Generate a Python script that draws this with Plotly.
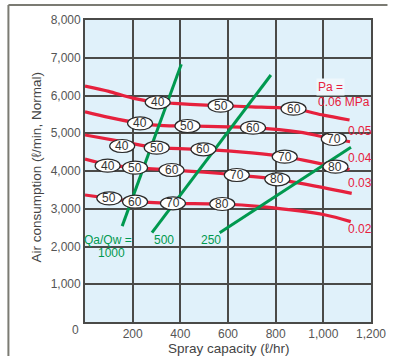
import plotly.graph_objects as go

# ---- data ----
pa_levels = ["0.06", "0.05", "0.04", "0.03", "0.02"]
curve_x = {
    "0.06": [0, 100, 200, 305, 373, 441, 569, 700, 875, 1000, 1110],
    "0.05": [0, 100, 231, 330, 430, 600, 705, 900, 1044, 1112],
    "0.04": [0, 156, 301, 497, 700, 838, 1051, 1110],
    "0.03": [0, 95, 210, 363, 500, 637, 807, 1000, 1119],
    "0.02": [0, 102, 210, 369, 576, 739, 1009, 1115],
}
curve_y = {
    "0.06": [6250, 6110, 5930, 5820, 5790, 5767, 5730, 5700, 5650, 5480, 5350],
    "0.05": [5570, 5420, 5263, 5200, 5192, 5170, 5148, 5030, 4848, 4776],
    "0.04": [4954, 4780, 4617, 4575, 4480, 4379, 4114, 4040],
    "0.03": [4318, 4170, 4088, 4026, 3970, 3894, 3780, 3560, 3409],
    "0.02": [3364, 3276, 3187, 3144, 3126, 3054, 2834, 2660],
}
# nozzle-pressure (kPa) markers along each curve
marker_x = {
    "0.06": [305, 569, 875],
    "0.05": [231, 430, 705, 1044],
    "0.04": [156, 301, 497, 838, 1051],
    "0.03": [95, 210, 363, 637, 807],
    "0.02": [102, 210, 369, 576],
}
marker_y = {
    "0.06": [5820, 5730, 5650],
    "0.05": [5263, 5192, 5148, 4848],
    "0.04": [4662, 4617, 4575, 4379, 4114],
    "0.03": [4141, 4088, 4026, 3894, 3780],
    "0.02": [3276, 3187, 3144, 3126],
}
marker_text = {
    "0.06": ["40", "50", "60"],
    "0.05": ["40", "50", "60", "70"],
    "0.04": ["40", "50", "60", "70", "80"],
    "0.03": ["40", "50", "60", "70", "80"],
    "0.02": ["50", "60", "70", "80"],
}
ratio_names = ["1000", "500", "250"]
ratio_x = {"1000": [156, 404], "500": [281, 780], "250": [565, 1116]}
ratio_y = {"1000": [2540, 6826], "500": [2366, 6543], "250": [2366, 4627]}

x_ticks = [200, 400, 600, 800, 1000, 1200]
x_tick_text = ["200", "400", "600", "800", "1,000", "1,200"]
y_ticks = [1000, 2000, 3000, 4000, 5000, 6000, 7000, 8000]
y_tick_text = ["1,000", "2,000", "3,000", "4,000", "5,000", "6,000", "7,000", "8,000"]

RED = "#e6213d"
GREEN = "#00994f"
FONT = "Liberation Sans, Arial, sans-serif"

fig = go.Figure()

for p in pa_levels:
    fig.add_trace(go.Scatter(x=curve_x[p], y=curve_y[p], mode="lines",
                             line=dict(color=RED, width=3.2, shape="spline", smoothing=0.7),
                             hoverinfo="skip", showlegend=False))
for r in ratio_names:
    fig.add_trace(go.Scatter(x=ratio_x[r], y=ratio_y[r], mode="lines",
                             line=dict(color=GREEN, width=3),
                             hoverinfo="skip", showlegend=False))

shapes = []
annotations = []
for p in pa_levels:
    for mx, my, mt in zip(marker_x[p], marker_y[p], marker_text[p]):
        shapes.append(dict(type="circle", xref="x", yref="y",
                           xsizemode="pixel", ysizemode="pixel",
                           xanchor=mx, yanchor=my, x0=-12.5, x1=12.5, y0=-6.5, y1=6.5,
                           fillcolor="white", line=dict(color="#2a2a2a", width=1.2),
                           layer="above"))
        annotations.append(dict(x=mx, y=my, xref="x", yref="y", text=mt, showarrow=False,
                                font=dict(family=FONT, size=12, color="#333333"),
                                xanchor="center", yanchor="middle", yshift=0))

# outer bracket frame (left + top)
shapes.append(dict(type="line", xref="paper", yref="paper",
                   x0=(6 - 85) / 295, x1=(6 - 85) / 295, y0=(322 - 356) / 302, y1=(322 - 5) / 302,
                   line=dict(color="#7b7b73", width=2)))
shapes.append(dict(type="line", xref="paper", yref="paper",
                   x0=(6 - 85) / 295, x1=(397 - 85) / 295, y0=(322 - 5) / 302, y1=(322 - 5) / 302,
                   line=dict(color="#7b7b73", width=2)))

# pressure labels
annotations.append(dict(x=(323 - 85) / 295, y=(322 - 87) / 302, xref="paper", yref="paper",
                        text="Pa =", showarrow=False, xanchor="left", yanchor="middle",
                        font=dict(family=FONT, size=12, color=RED), bgcolor="#eef7fc"))
annotations.append(dict(x=(323 - 85) / 295, y=(322 - 102) / 302, xref="paper", yref="paper",
                        text="0.06 MPa", showarrow=False, xanchor="left", yanchor="middle",
                        font=dict(family=FONT, size=12, color=RED)))
pa_label_y = {"0.05": 131, "0.04": 158, "0.03": 183, "0.02": 229}
for p in ["0.05", "0.04", "0.03", "0.02"]:
    annotations.append(dict(x=(354 - 85) / 295, y=(322 - pa_label_y[p]) / 302, xref="paper", yref="paper",
                            text=p, showarrow=False, xanchor="left", yanchor="middle",
                            font=dict(family=FONT, size=12, color=RED)))

# ratio labels
annotations.append(dict(x=(109 - 85) / 295, y=(322 - 240) / 302, xref="paper", yref="paper",
                        text="Qa/Qw =", showarrow=False, xanchor="center", yanchor="middle",
                        font=dict(family=FONT, size=12, color=GREEN)))
annotations.append(dict(x=(112 - 85) / 295, y=(322 - 253) / 302, xref="paper", yref="paper",
                        text="1000", showarrow=False, xanchor="center", yanchor="middle",
                        font=dict(family=FONT, size=12, color=GREEN)))
annotations.append(dict(x=(167 - 85) / 295, y=(322 - 240) / 302, xref="paper", yref="paper",
                        text="500", showarrow=False, xanchor="center", yanchor="middle",
                        font=dict(family=FONT, size=12, color=GREEN)))
annotations.append(dict(x=(215 - 85) / 295, y=(322 - 240) / 302, xref="paper", yref="paper",
                        text="250", showarrow=False, xanchor="center", yanchor="middle",
                        font=dict(family=FONT, size=12, color=GREEN)))

# origin "0"
annotations.append(dict(x=0, y=0, xref="x", yref="y", text="0", showarrow=False,
                        xanchor="center", yanchor="middle", xshift=-10, yshift=-8,
                        font=dict(family=FONT, size=12, color="#555555")))

# axis titles
annotations.append(dict(x=(233 - 85) / 295, y=(322 - 349) / 302, xref="paper", yref="paper",
                        text="Spray capacity (ℓ/hr)", showarrow=False, xanchor="center", yanchor="middle",
                        font=dict(family=FONT, size=13.5, color="#444444")))
annotations.append(dict(x=(35 - 85) / 295, y=(322 - 168) / 302, xref="paper", yref="paper",
                        text="Air consumption (ℓ/min, Normal)", showarrow=False, textangle=-90,
                        xanchor="center", yanchor="middle",
                        font=dict(family=FONT, size=13.5, color="#444444")))

GRID = "#4a4a48"
fig.update_layout(
    width=398, height=356,
    margin=dict(l=85, r=18, t=20, b=34),
    paper_bgcolor="white", plot_bgcolor="#e0f1fa",
    showlegend=False,
    shapes=shapes, annotations=annotations,
    xaxis=dict(range=[0, 1200], tickvals=x_ticks, ticktext=x_tick_text,
               showgrid=True, gridcolor=GRID, gridwidth=1.8,
               showline=True, linecolor=GRID, linewidth=1.8, mirror=True,
               zeroline=False, ticks="", ticklen=0,
               tickfont=dict(family=FONT, size=12, color="#555555")),
    yaxis=dict(range=[0, 8000], tickvals=y_ticks, ticktext=y_tick_text,
               showgrid=True, gridcolor=GRID, gridwidth=1.8,
               showline=True, linecolor=GRID, linewidth=1.8, mirror=True,
               zeroline=False, ticks="", ticklen=0,
               tickfont=dict(family=FONT, size=12, color="#555555")),
)

fig.write_html("out.html", config={"displayModeBar": False},
               post_script="document.body.style.margin='0';document.body.style.padding='0';")
